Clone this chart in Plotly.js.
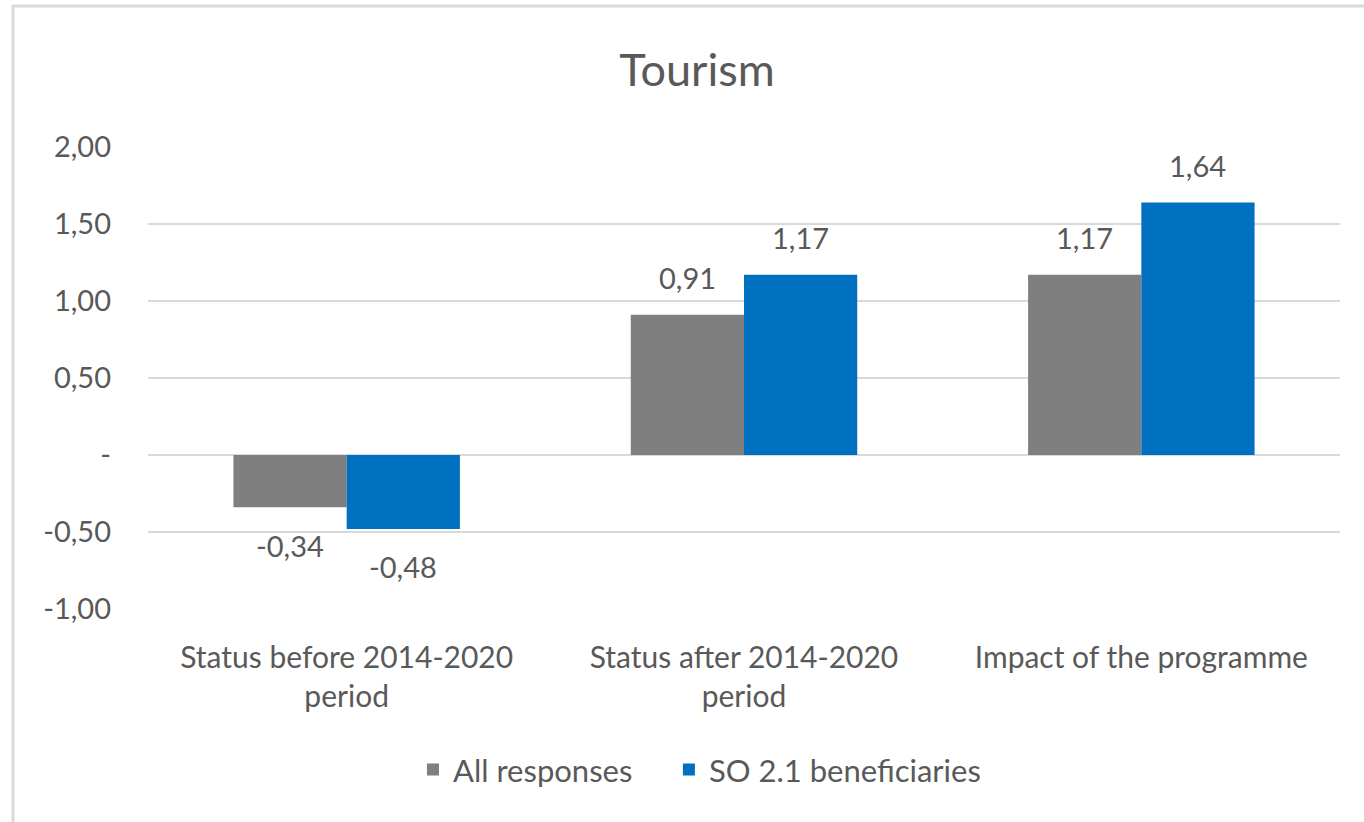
<!DOCTYPE html>
<html>
<head>
<meta charset="utf-8">
<script src="https://cdn.plot.ly/plotly-3.0.1.min.js"></script>
<style>html,body{margin:0;padding:0;background:#fff;}#chart{width:1364px;height:822px;}</style>
</head>
<body>
<div id="chart"></div>
<script>
const categories = ["Status before 2014-2020<br>period", "Status after 2014-2020<br>period", "Impact of the programme"];
const allResponses = [-0.34, 0.91, 1.17];
const so21Beneficiaries = [-0.48, 1.17, 1.64];
const seriesNames = ["All responses", "SO 2.1 beneficiaries"];
const yTickVals = [-1, -0.5, 0, 0.5, 1, 1.5, 2];
const yTickText = ["-1,00", "-0,50", "-", "0,50", "1,00", "1,50", "2,00"];

const fmt = v => v.toFixed(2).replace('.', ',');
const FONT = "Lato, 'Open Sans', sans-serif";
const TXT = "#595959";
const BARGAP = 0.43;
const barOffset = (1 - BARGAP) / 4;

const traces = [
  {type: 'bar', name: seriesNames[0], x: categories, y: allResponses,
   marker: {color: '#7F7F7F'}, hoverinfo: 'none', legend: 'legend'},
  {type: 'bar', name: seriesNames[1], x: categories, y: so21Beneficiaries,
   marker: {color: '#0070C0'}, hoverinfo: 'none', legend: 'legend2'}
];

const annotations = [];
[allResponses, so21Beneficiaries].forEach((series, s) => {
  series.forEach((v, i) => {
    annotations.push({
      xref: 'x', yref: 'y', x: i + (s === 0 ? -barOffset : barOffset), y: v,
      text: fmt(v), showarrow: false, xanchor: 'center', yanchor: 'middle',
      yshift: v >= 0 ? 37 : -38,
      font: {family: FONT, size: 29, color: TXT}
    });
  });
});

const legendBase = {orientation: 'h', xanchor: 'left', y: -0.348, yanchor: 'middle',
                    font: {family: FONT, size: 31, color: TXT}, bgcolor: 'rgba(0,0,0,0)'};

const layout = {
  width: 1364, height: 822,
  margin: {l: 148, r: 24, t: 147, b: 213},
  paper_bgcolor: '#fff', plot_bgcolor: '#fff',
  font: {family: FONT, size: 29, color: TXT},
  title: {text: 'Tourism', x: 0.511, xref: 'container', y: 0.915, yref: 'container', yanchor: 'middle', xanchor: 'center',
          font: {family: FONT, size: 45, color: TXT}},
  barmode: 'group', bargap: BARGAP, bargroupgap: 0,
  showlegend: true,
  legend: Object.assign({}, legendBase, {x: 0.2223}),
  legend2: Object.assign({}, legendBase, {x: 0.437}),
  xaxis: {type: 'category', showgrid: false, zeroline: false, showline: false, ticks: '',
          tickfont: {family: FONT, size: 30, color: TXT}, ticklabelstandoff: 28, automargin: false},
  yaxis: {range: [-1, 2], tickvals: yTickVals, ticktext: yTickText, showgrid: true,
          gridcolor: '#D9D9D9', gridwidth: 2, zeroline: false, showline: false, ticks: '',
          tickfont: {family: FONT, size: 29, color: TXT}, ticklabelstandoff: 36, automargin: false, fixedrange: true},
  annotations: annotations,
  shapes: [{type: 'rect', xref: 'paper', yref: 'paper',
            x0: (13 - 148) / 1192, x1: (1380 - 148) / 1192,
            y0: (609 - 840) / 462, y1: (609 - 6) / 462,
            line: {color: '#D9D9D9', width: 3}, fillcolor: 'rgba(0,0,0,0)', layer: 'below'}]
};

Plotly.newPlot('chart', traces, layout, {staticPlot: true, displayModeBar: false});
</script>
</body>
</html>
